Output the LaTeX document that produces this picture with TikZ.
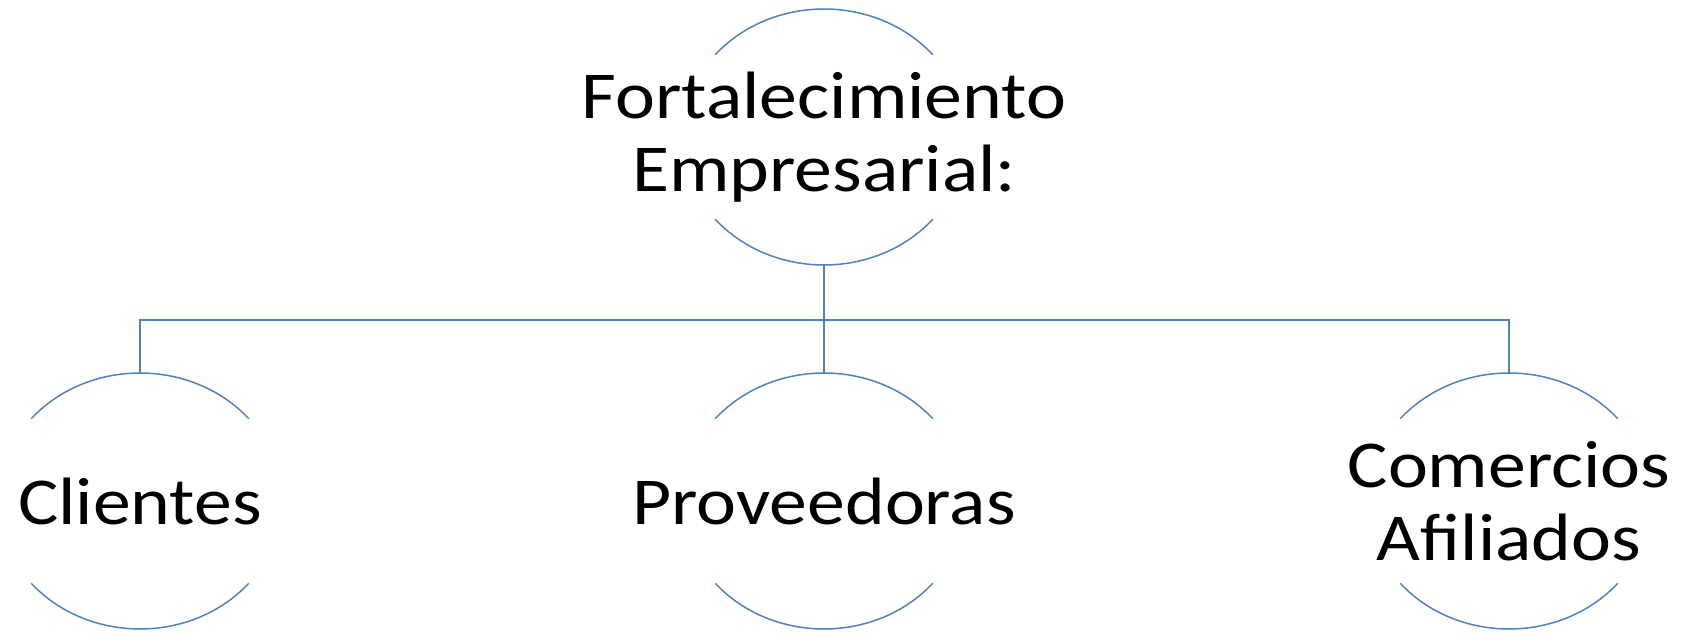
\documentclass[tikz,border=0pt]{standalone}
\usepackage{fontspec}
\setmainfont[FakeStretch=1.13]{Carlito}
\definecolor{linea}{RGB}{79,129,189}

\begin{document}
\begin{tikzpicture}[x=1pt, y=1pt, every node/.style={align=center, inner sep=0pt, font=\fontsize{33.5}{36.5}\selectfont},
    arco/.style={linea, line width=0.75pt}]
  \useasboundingbox (0,0) rectangle (844,316.5);
  \node (raiz) at (412,248) {Fortalecimiento\\Empresarial:};
  \node (cli) at (70,66) {Clientes};
  \node (prov) at (412,66) {Proveedoras};
  \node (com) at (754.5,66) {Comercios\\Afiliados};
  \foreach \c in {raiz,cli,prov,com} {
    \draw[arco] ([shift={(40:71 and 64)}]\c.center) arc[start angle=40, end angle=140, x radius=71, y radius=64];
    \draw[arco] ([shift={(220:71 and 64)}]\c.center) arc[start angle=220, end angle=320, x radius=71, y radius=64];
    \coordinate (\c t) at ([yshift=64]\c.center);
    \coordinate (\c b) at ([yshift=-64]\c.center);
  }
  \draw[arco] (raizb) -- ++(0,-27.5) coordinate (bus);
  \draw[arco] (clit) |- (bus) -| (comt);
  \draw[arco] (bus) -- (provt);
\end{tikzpicture}
\end{document}
